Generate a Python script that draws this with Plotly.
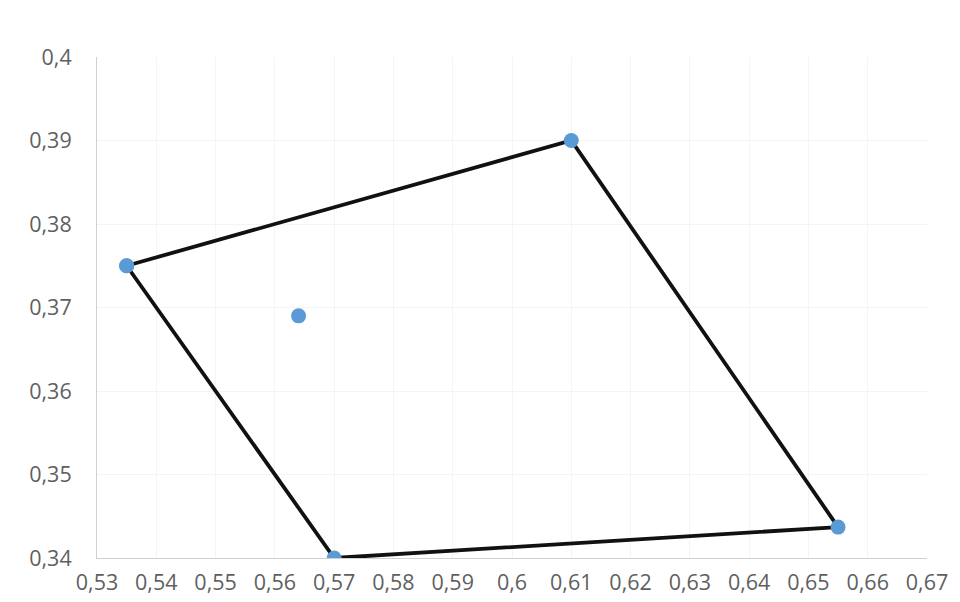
import plotly.graph_objects as go

# Polygon vertices (closed loop) and a separate point
poly_x = [0.535, 0.61, 0.655, 0.57, 0.535]
poly_y = [0.375, 0.39, 0.3437, 0.34, 0.375]
pt_x = [0.564]
pt_y = [0.369]

x_ticks = [0.53, 0.54, 0.55, 0.56, 0.57, 0.58, 0.59, 0.6, 0.61, 0.62, 0.63, 0.64, 0.65, 0.66, 0.67]
y_ticks = [0.34, 0.35, 0.36, 0.37, 0.38, 0.39, 0.4]

blue = "#5B9BD5"

fig = go.Figure()
fig.add_trace(go.Scatter(
    x=poly_x, y=poly_y, mode="lines+markers",
    line=dict(color="#111111", width=3.8),
    marker=dict(color=blue, size=15),
    showlegend=False, hoverinfo="x+y"))
fig.add_trace(go.Scatter(
    x=pt_x, y=pt_y, mode="markers",
    marker=dict(color=blue, size=15),
    showlegend=False))

font = dict(family="Open Sans, Liberation Sans, sans-serif", size=21.5, color="#5f5f5f")

# page body has an 8px default margin, so the figure is sized to fit the window
fig.update_layout(
    width=952, height=594,
    margin=dict(l=89, r=33, t=49, b=44, autoexpand=False),
    paper_bgcolor="white", plot_bgcolor="white",
    separators=", ",
    font=font,
    xaxis=dict(range=[0.53, 0.67], tickvals=x_ticks, showgrid=True, gridcolor="#f4f4f4",
               zeroline=False, showline=True, linecolor="#d0d0d0", linewidth=1,
               ticks="", ticklabelstandoff=5, tickfont=font, automargin=False),
    yaxis=dict(range=[0.34, 0.4], tickvals=y_ticks, showgrid=True, gridcolor="#f4f4f4",
               zeroline=False, showline=True, linecolor="#d0d0d0", linewidth=1,
               ticks="", ticklabelstandoff=20, tickfont=font, automargin=False),
)

fig.write_html("out.html")
